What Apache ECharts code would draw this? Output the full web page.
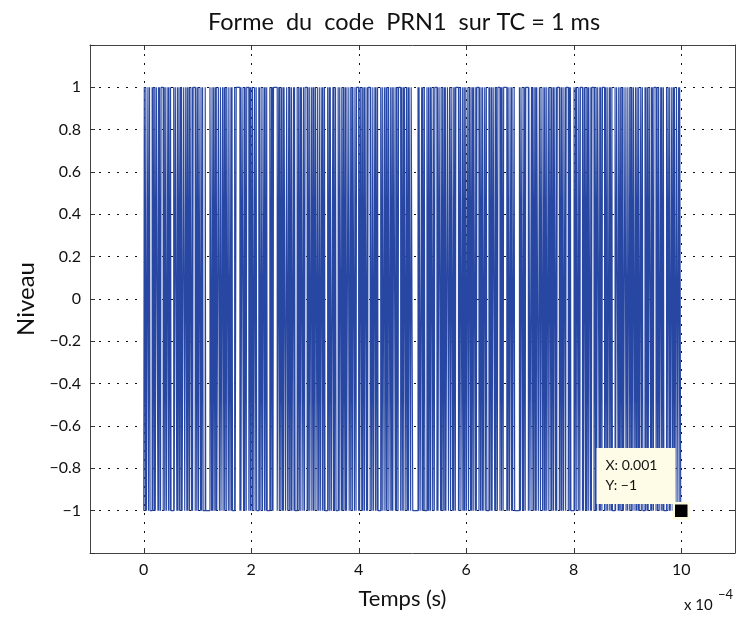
<!DOCTYPE html>
<html>
<head>
<meta charset="utf-8">
<script src="https://cdn.jsdelivr.net/npm/echarts@6/dist/echarts.min.js"></script>
<style>
  html, body { margin: 0; padding: 0; background: #fff; }
  #chart { width: 737px; height: 617px; }
</style>
</head>
<body>
<div id="chart"></div>
<script>
// run lengths of the code (in chips), one digit per run, "a" = 10
var codeRuns = [
  "121131214112112311121421213112115123112121113222112113111412" + "1213112141",
  "8",
  "311212111322" + "13121121312" + "2111412",
  "7",
  "112311121421" + "121131214112" + "21311211512" + "1111",
  "7",
  "311212111322" + "2112113111412" + "121131214112" + "13121121312" + "21311211512" + "112311121421",
  "311212111322" + "121131214112" + "2112113111412" + "21311211512" + "13121121312" + "112311121421" + "211312111313",
  "a",
  "112311121421" + "121131214112" + "311212111322" + "21311211512" + "13121121312" + "2112113111412",
  "121131214112" + "112311121421" + "12161121311131",
  "9",
  "21311211512" + "311212111322" + "13121121312" + "2112113111412" + "112131142111",
  "6",
  "121131214112" + "2112113111412" + "112311121421" + "21311211512" + "311212111322",
  "13121121312" + "121131214112" + "112311121421" + "21311211512" + "2113121113131121"
];
var chipCount = 1023;
var codeDuration = 1e-3;   // s
var lastLevel = -1;
var xTicks = [0, 2e-4, 4e-4, 6e-4, 8e-4, 10e-4];
var tipPoint = [0.001, -1];

var runs = codeRuns.join("").split("").map(function (c) { return parseInt(c, 16); });
var Tc = codeDuration / chipCount;
var pts = [];
var chip = 0;
for (var i = 0; i < runs.length; i++) {
  var lvl = ((runs.length - 1 - i) % 2 === 0) ? lastLevel : -lastLevel;
  pts.push([chip * Tc, lvl]);
  chip += runs[i];
}
pts.push([chip * Tc, lastLevel]);

var font = "Lato";
var gridLine = { show: true, lineStyle: { color: "#111", width: 1, type: [2, 7] } };
var tickStyle = { show: true, inside: true, length: 5, lineStyle: { color: "#333" } };
var boxLine = { show: true, onZero: false, lineStyle: { color: "#444" } };

var myChart = echarts.init(document.getElementById("chart"));
myChart.setOption({
  animation: false,
  title: {
    text: "Forme  du  code  PRN1  sur TC = 1 ms",
    left: 203,
    top: 5,
    textStyle: { fontFamily: font, fontSize: 23.5, fontWeight: "normal", color: "#111" }
  },
  grid: { left: 90, right: 2, top: 45, bottom: 64 },
  xAxis: [
    {
      type: "value",
      min: -1e-4,
      max: 11e-4,
      name: "Temps (s)",
      nameLocation: "middle",
      nameGap: 35,
      nameTextStyle: { fontFamily: font, fontSize: 22, color: "#111", padding: [0, 20, 0, 0] },
      axisLine: boxLine,
      axisTick: Object.assign({ customValues: xTicks }, tickStyle),
      axisLabel: {
        customValues: xTicks,
        margin: 9,
        fontFamily: font,
        fontSize: 16,
        color: "#111",
        formatter: function (v) { return String(Math.round(v * 1e4)); }
      },
      splitLine: gridLine
    },
    {
      type: "value",
      position: "top",
      min: -1e-4,
      max: 11e-4,
      axisLine: boxLine,
      axisTick: Object.assign({ customValues: xTicks }, tickStyle),
      axisLabel: { show: false },
      splitLine: { show: false }
    }
  ],
  yAxis: [
    {
      type: "value",
      min: -1.2,
      max: 1.2,
      interval: 0.2,
      name: "Niveau",
      nameLocation: "middle",
      nameGap: 52,
      nameTextStyle: { fontFamily: font, fontSize: 24, color: "#111" },
      axisLine: boxLine,
      axisTick: tickStyle,
      axisLabel: {
        margin: 9,
        fontFamily: font,
        fontSize: 16,
        color: "#111",
        formatter: function (v) {
          if (Math.abs(v) > 1.01) return "";
          var r = Math.round(v * 10) / 10;
          return r < 0 ? "\u2212" + String(-r) : String(r);
        }
      },
      splitLine: gridLine
    },
    {
      type: "value",
      position: "right",
      min: -1.2,
      max: 1.2,
      interval: 0.2,
      axisLine: boxLine,
      axisTick: tickStyle,
      axisLabel: { show: false },
      splitLine: { show: false }
    }
  ],
  series: [
    {
      type: "line",
      data: pts,
      step: "end",
      symbol: "none",
      lineStyle: { color: "#2847a2", width: 1.15 },
      silent: true,
      z: 2
    },
    {
      type: "scatter",
      data: [tipPoint],
      symbol: "rect",
      symbolSize: 15,
      zlevel: 1,
      z: 10,
      silent: true,
      itemStyle: { color: "#000", borderColor: "#fdfbe0", borderWidth: 2.5, opacity: 1 },
      label: {
        show: true,
        position: [-76, -54],
        formatter: "X: 0.001\nY: \u22121",
        backgroundColor: "#fefce6",
        padding: [8, 18, 8, 9],
        lineHeight: 20,
        fontFamily: font,
        fontSize: 14,
        color: "#111",
        opacity: 1,
        align: "left"
      },
      labelLayout: { hideOverlap: false }
    }
  ],
  graphic: [
    { type: "text", left: 684, top: 598, style: { text: "x 10", fontFamily: font, fontSize: 15, fill: "#111" } },
    { type: "text", left: 718, top: 588, style: { text: "\u22124", fontFamily: font, fontSize: 13, fill: "#111" } }
  ]
});
</script>
</body>
</html>
